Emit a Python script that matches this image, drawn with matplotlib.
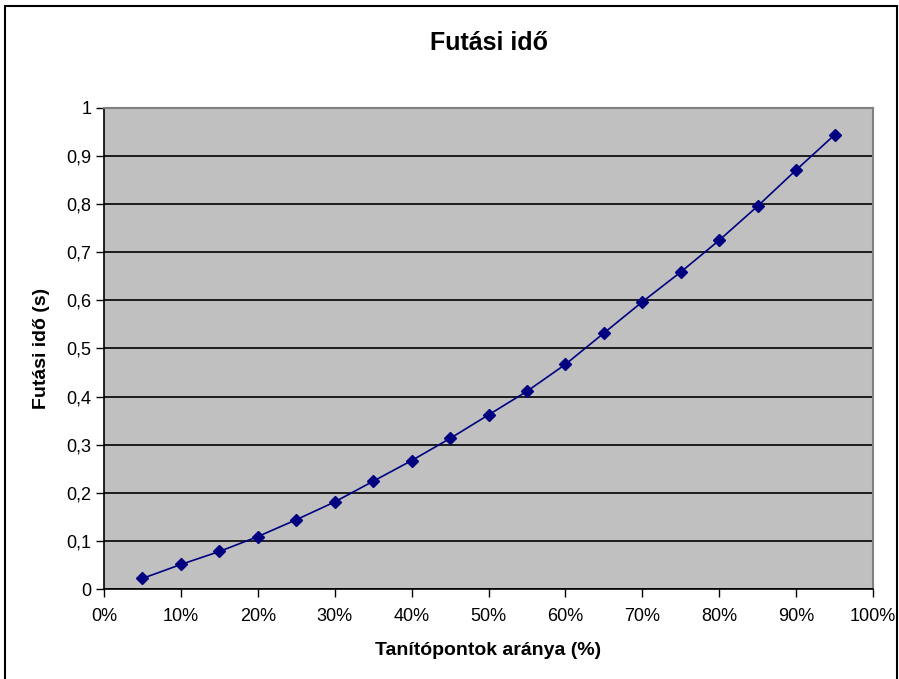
import matplotlib.pyplot as plt
from matplotlib.patches import Rectangle
from matplotlib.ticker import FuncFormatter, MultipleLocator

# adat
arany = [5, 10, 15, 20, 25, 30, 35, 40, 45, 50, 55, 60, 65, 70, 75, 80, 85, 90, 95]
ido = [0.022, 0.051, 0.078, 0.109, 0.144, 0.181, 0.224, 0.267, 0.313, 0.362,
       0.411, 0.467, 0.532, 0.597, 0.659, 0.725, 0.796, 0.871, 0.944]

plt.rcParams['font.family'] = ['Liberation Sans', 'DejaVu Sans']

fig = plt.figure(figsize=(8.99, 6.79), dpi=100)
W, H = 899, 679
ax = fig.add_axes([104 / W, 1 - 589 / H, (873 - 104) / W, (589 - 108) / H])
ax.set_facecolor('#C0C0C0')

ax.plot(arany, ido, color='#000080', lw=1.2, marker='D', ms=6.5,
        markerfacecolor='#000080', markeredgecolor='#000080', zorder=3)

ax.set_xlim(0, 100)
ax.set_ylim(0, 1)
ax.xaxis.set_major_locator(MultipleLocator(10))
ax.yaxis.set_major_locator(MultipleLocator(0.1))
ax.xaxis.set_major_formatter(FuncFormatter(lambda v, p: f'{v:.0f}%'))
ax.yaxis.set_major_formatter(FuncFormatter(
    lambda v, p: '0' if abs(v) < 1e-9 else ('1' if abs(v - 1) < 1e-9 else f'{v:.1f}'.replace('.', ','))))
ax.grid(axis='y', color='black', lw=1.2)
ax.set_axisbelow(True)
ax.tick_params(axis='both', direction='out', length=6, width=1, labelsize=13, colors='black')
ax.tick_params(axis='x', pad=8)
ax.tick_params(axis='y', pad=3)

for s in ['top', 'right']:
    ax.spines[s].set_color('#808080')
    ax.spines[s].set_linewidth(1.5)
for s in ['left', 'bottom']:
    ax.spines[s].set_color('black')
    ax.spines[s].set_linewidth(1.2)

ax.set_xlabel('Tanítópontok aránya (%)', fontsize=14, fontweight='bold', labelpad=12)
ax.set_ylabel('Futási idő (s)', fontsize=14, fontweight='bold', labelpad=12)
fig.text(0.5 * (104 + 873) / W, 1 - 43 / H, 'Futási idő', ha='center', va='center',
         fontsize=18, fontweight='bold')

# külső keret
fig.patches.append(Rectangle((5 / W, -0.01), (897 - 5) / W, 1 - 6 / H + 0.01,
                             transform=fig.transFigure, fill=False, ec='black', lw=1.5))

fig.savefig('out.png', dpi=100)
